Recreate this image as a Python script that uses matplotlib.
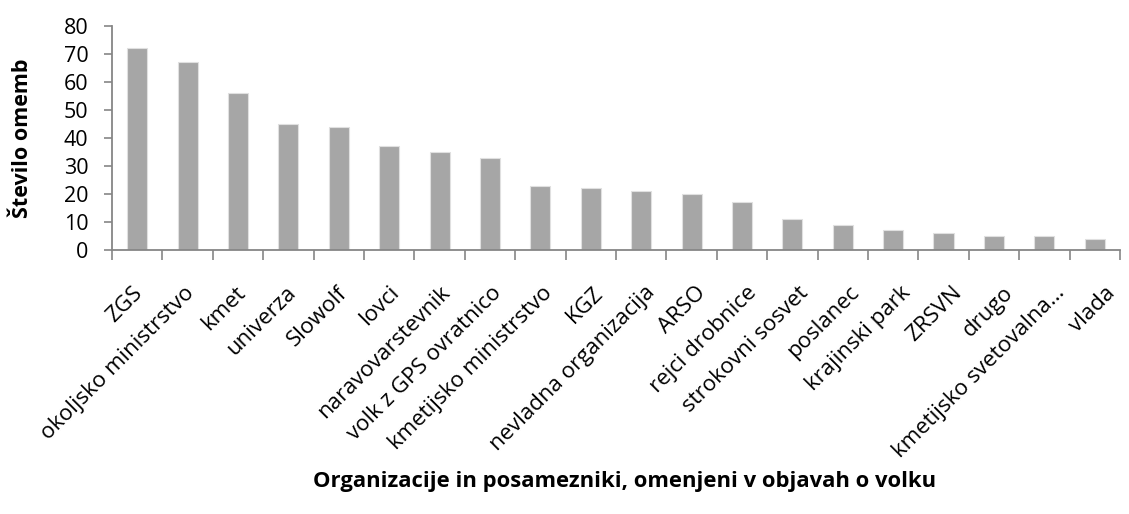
import matplotlib.pyplot as plt
import numpy as np

categories = ['ZGS', 'okoljsko ministrstvo', 'kmet', 'univerza', 'Slowolf', 'lovci',
              'naravovarstevnik', 'volk z GPS ovratnico', 'kmetijsko ministrstvo', 'KGZ',
              'nevladna organizacija', 'ARSO', 'rejci drobnice', 'strokovni sosvet',
              'poslanec', 'krajinski park', 'ZRSVN', 'drugo',
              'kmetijsko svetovalna…', 'vlada']
values = [72, 67, 56, 45, 44, 37, 35, 33, 23, 22, 21, 20, 17, 11, 9, 7, 6, 5, 5, 4]
yticks = [0, 10, 20, 30, 40, 50, 60, 70, 80]

plt.rcParams['font.family'] = ['Open Sans', 'DejaVu Sans']
axis_col = '#868686'

fig = plt.figure(figsize=(11.29, 5.14), dpi=100)
ax = fig.add_axes([0.0992, 0.5136, 0.8928, 0.4358])

x = np.arange(len(categories))
ax.bar(x, values, width=0.4, color='#a6a6a6', edgecolor='#e0e0e0', linewidth=0.8)

ax.set_xlim(-0.5, len(categories) - 0.5)
ax.set_ylim(0, 80)
ax.set_yticks(yticks)
ax.tick_params(axis='y', labelsize=15.5, color=axis_col, length=6, width=1.2, pad=11)

ax.set_xticks(np.arange(len(categories) + 1) - 0.5)
ax.set_xticklabels([])
ax.tick_params(axis='x', color=axis_col, length=7, width=1.2)
# rotated labels, top-right end sits just right of the bar centre
for i, name in enumerate(categories):
    ax.text(i - 0.1 + 0.016 * i, -11.5, name, rotation=45, rotation_mode='anchor',
            ha='right', va='top', fontsize=16)

for s in ['top', 'right']:
    ax.spines[s].set_visible(False)
for s in ['left', 'bottom']:
    ax.spines[s].set_color(axis_col)
    ax.spines[s].set_linewidth(1.3)

ax.set_ylabel('Število omemb', fontsize=15.5, fontweight='bold')
ax.yaxis.set_label_coords(-0.078, 0.5)
fig.text(0.553, 0.064, 'Organizacije in posamezniki, omenjeni v objavah o volku',
         ha='center', va='center', fontsize=15.8, fontweight='bold')

fig.savefig('out.png', dpi=100)
